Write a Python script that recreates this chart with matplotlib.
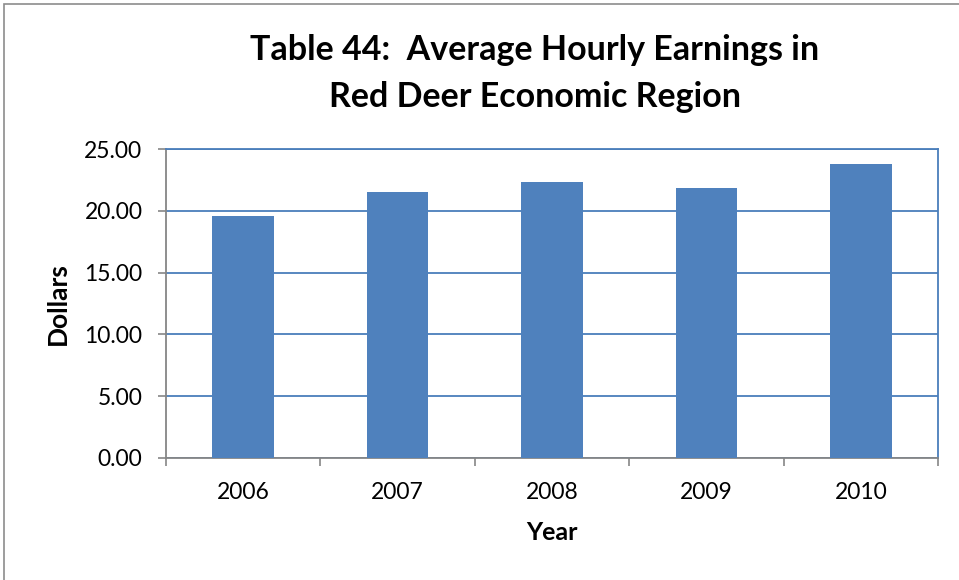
import matplotlib
matplotlib.use("Agg")
import matplotlib.pyplot as plt
from matplotlib.patches import Rectangle
import numpy as np

years = ["2006", "2007", "2008", "2009", "2010"]
earnings = [19.57, 21.52, 22.34, 21.85, 23.75]
yticks = [0, 5, 10, 15, 20, 25]

plt.rcParams['font.family'] = ['Lato', 'DejaVu Sans']

W, H = 959, 580
fig = plt.figure(figsize=(W/100, H/100), dpi=100)
fig.patch.set_facecolor("white")
# outer border
fig.patches.append(Rectangle((4/W, -0.01), 1.02, (H-4)/H + 0.01, transform=fig.transFigure,
                             fill=False, edgecolor="#8c8c8c", linewidth=1.2))

left, right, top, bottom = 166, 938, 149, 458
ax = fig.add_axes([left/W, 1-bottom/H, (right-left)/W, (bottom-top)/H])

x = np.arange(len(years))
ax.bar(x, earnings, width=0.4, color="#4F81BD", zorder=3)

ax.set_xlim(-0.5, len(years)-0.5)
ax.set_ylim(0, 25)
ax.set_yticks(yticks)
ax.set_yticklabels([f"{v:.2f}" for v in yticks], fontsize=16.5)
ax.yaxis.grid(True, color="#4A7EBB", linewidth=1.3, zorder=0)
ax.set_axisbelow(True)

ax.set_xticks(x)
ax.set_xticklabels(years, fontsize=16.5)
ax.set_xticks(np.arange(-0.5, len(years)), minor=True)
ax.tick_params(axis='x', which='major', length=0, pad=17)
ax.tick_params(axis='x', which='minor', length=6, color="#868686", width=1.2)
ax.tick_params(axis='y', length=6, color="#868686", width=1.2, pad=11)

for s in ["left", "bottom"]:
    ax.spines[s].set_color("#868686")
    ax.spines[s].set_linewidth(1.3)
for s in ["top", "right"]:
    ax.spines[s].set_color("#4A7EBB")
    ax.spines[s].set_linewidth(1.3)

ax.set_xlabel("Year", fontsize=18, fontweight="bold", va="center", ha="center")
ax.xaxis.set_label_coords((552-left)/(right-left), (bottom-533)/(bottom-top))
ax.set_ylabel("Dollars", fontsize=19, fontweight="bold", va="center", ha="center")
ax.yaxis.set_label_coords((58-left)/(right-left), 0.5)

fig.text(535/W, 1-50/H, "Table 44:  Average Hourly Earnings in", ha="center", va="center",
         fontsize=24.5, fontweight="bold")
fig.text(535/W, 1-97/H, "Red Deer Economic Region", ha="center", va="center",
         fontsize=24.5, fontweight="bold")

fig.savefig("out.png", dpi=100, facecolor="white")
